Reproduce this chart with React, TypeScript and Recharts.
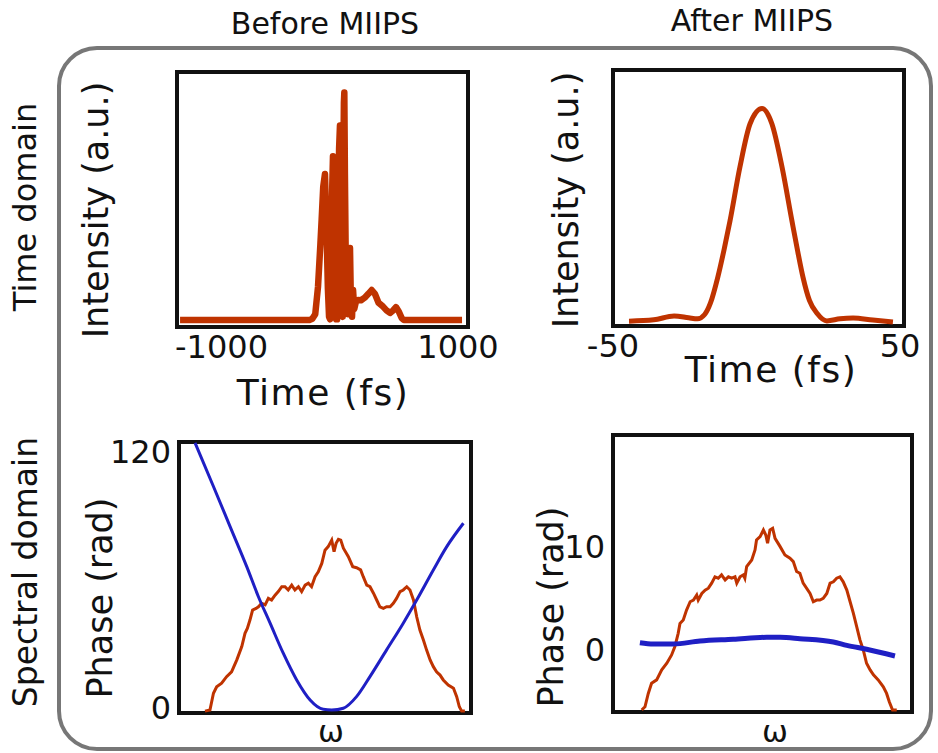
import React from 'react';
import { LineChart, Line, XAxis, YAxis, ReferenceArea } from 'recharts';

const W = 938;
const H = 753;
const FONT = '"DejaVu Sans", Verdana, sans-serif';
const RED = '#bf3300';
const BLUE = '#1f1fc4';
const INK = '#111';

// before MIIPS, time domain (fs / a.u.)
const beforeTime = [-979, -90, -70, -50, -31, -15, -6, 5, 17, 27, 37, 45, 52, 60, 67, 72, 78, 86, 94, 100, 107, 114, 120, 126, 133, 139, 143, 147, 150, 154, 160, 168, 177, 183, 189, 195, 203, 210, 218, 230, 244, 265, 290, 315, 338, 360, 385, 416, 440, 464, 485, 505, 525, 544, 560, 959];
const beforeIntensity = [2.7, 2.7, 3.2, 5, 15.7, 32, 42, 55, 60, 40, 15, 4, 3, 25, 55, 67, 45, 15, 3, 3, 35, 70, 79, 45, 5, 4, 60, 88, 92, 60, 25, 7, 5, 20, 31, 10, 4, 14.5, 7, 10, 10.6, 10.5, 11.5, 13, 14.5, 13, 9.5, 8, 6.5, 5.5, 6.5, 7.8, 6, 3.5, 2.7, 2.7];

// after MIIPS, time domain
const afterTime = [-44.5, -36, -29, -24, -21, -18.5, -16.5, -14, -11.8, -9.8, -6.4, -2.9, 1.2, 4.6, 8.1, 11.5, 13.5, 15.3, 17.5, 20.1, 23.5, 28, 32.5, 39.3, 46.2];
const afterIntensity = [1.9, 2.4, 3.9, 3.2, 2.8, 4.5, 9, 19, 30, 41, 62, 79, 85, 79, 62, 41, 29, 19, 10, 5, 2, 2.8, 3.1, 2.3, 1.6];

// before MIIPS, spectral domain (normalised ω)
const beforeOmega = [0.089, 0.106, 0.118, 0.129, 0.146, 0.163, 0.18, 0.198, 0.215, 0.226, 0.234, 0.243, 0.252, 0.264, 0.272, 0.283, 0.295, 0.306, 0.317, 0.329, 0.34, 0.352, 0.363, 0.374, 0.386, 0.397, 0.409, 0.42, 0.432, 0.443, 0.454, 0.466, 0.477, 0.489, 0.5, 0.511, 0.523, 0.531, 0.538, 0.546, 0.554, 0.563, 0.58, 0.595, 0.608, 0.622, 0.631, 0.643, 0.654, 0.666, 0.677, 0.688, 0.7, 0.711, 0.723, 0.734, 0.745, 0.757, 0.768, 0.78, 0.791, 0.803, 0.814, 0.825, 0.837, 0.848, 0.86, 0.871, 0.882, 0.894, 0.905, 0.922, 0.94, 0.951, 0.96, 0.968, 0.979];
const beforeSpectrum = [0.7, 1.1, 7.3, 9.7, 11, 13.4, 15.2, 19.6, 24.5, 29.4, 31.2, 34.3, 38, 38.6, 39.2, 40.5, 39.9, 42.3, 41.7, 43.5, 44.8, 46.6, 46.6, 45.4, 47.2, 45.4, 46.6, 44.8, 47.2, 47.9, 46.6, 50.3, 52.1, 55.2, 60.1, 61.4, 63.8, 59.5, 62.6, 64.1, 63.8, 60.8, 57.7, 54, 53.6, 52.8, 50.3, 47.2, 46.6, 44.2, 41.7, 39.2, 38.6, 39.2, 39.2, 40.5, 42.3, 44.8, 45.4, 46.6, 45.4, 41.7, 35.5, 30.6, 26.9, 23.2, 19.6, 17.1, 15.2, 14, 12.2, 10.3, 9.1, 6, 2.3, 0.7, 0.7];
const beforePhaseOmega = [0.055, 0.118, 0.175, 0.232, 0.272, 0.312, 0.357, 0.403, 0.449, 0.494, 0.523, 0.563, 0.608, 0.654, 0.711, 0.768, 0.814, 0.871, 0.917, 0.974];
const beforePhase = [120, 100.4, 82.4, 64.4, 50.9, 39, 25.5, 13.5, 4.5, 0.3, 0, 0.8, 6, 15, 27, 39, 49.4, 62.9, 73.4, 83.9];

// after MIIPS, spectral domain
const afterOmega = [0.096, 0.107, 0.118, 0.129, 0.146, 0.163, 0.18, 0.196, 0.207, 0.218, 0.224, 0.235, 0.246, 0.258, 0.269, 0.28, 0.285, 0.297, 0.308, 0.319, 0.33, 0.341, 0.352, 0.363, 0.375, 0.386, 0.397, 0.408, 0.414, 0.425, 0.436, 0.441, 0.447, 0.464, 0.475, 0.48, 0.492, 0.503, 0.511, 0.517, 0.525, 0.534, 0.542, 0.559, 0.575, 0.592, 0.603, 0.614, 0.625, 0.636, 0.659, 0.67, 0.681, 0.692, 0.703, 0.715, 0.726, 0.737, 0.748, 0.759, 0.77, 0.782, 0.793, 0.804, 0.815, 0.826, 0.837, 0.848, 0.86, 0.871, 0.887, 0.904, 0.915, 0.924, 0.935, 0.949];
const afterSpectrum = [0.7, 1.9, 6.7, 10.4, 11.6, 15.2, 17.6, 20.6, 23.6, 28.4, 32, 33.2, 36.8, 39.8, 40.4, 42.2, 40.4, 42.8, 44, 44.7, 46.5, 48.8, 48.3, 49.5, 47.7, 48.8, 48.3, 48.8, 46.5, 48.8, 49.5, 48.3, 52.5, 54.9, 58.5, 62.1, 63.3, 65.7, 63.9, 60.9, 65.7, 66.3, 62.7, 59.7, 56.7, 55.5, 54.3, 50.7, 50.1, 46.5, 42.8, 39.8, 40.4, 40.4, 41, 42.8, 46.5, 47, 48.3, 48.8, 47, 44, 39.8, 35.6, 30.8, 26, 22.4, 17.6, 15.2, 13.4, 11.6, 9.1, 6.7, 3.7, 0.7, 0.7];
const afterPhaseOmega = [0.09, 0.135, 0.202, 0.291, 0.402, 0.514, 0.559, 0.625, 0.737, 0.782, 0.848, 0.943];
const afterPhase = [0.71, 0.58, 0.58, 0.87, 1.04, 1.23, 1.23, 1.1, 0.78, 0.45, 0.07, -0.58];

const zip = (xs: number[], ys: number[]) => xs.map((x, i) => ({ x, y: ys[i] }));

type Box = { l: number; t: number; r: number; b: number };
const box1: Box = { l: 177, t: 72, r: 468, b: 327 };
const box2: Box = { l: 613, t: 70, r: 904, b: 326 };
const box3: Box = { l: 179, t: 442, r: 471, b: 713 };
const box4: Box = { l: 613, t: 435, r: 912, b: 712 };

const YW = 40;
const XH = 30;
const marginOf = (b: Box) => ({ top: b.t, left: b.l - YW, right: W - b.r, bottom: H - b.b - XH });

const layer: React.CSSProperties = { position: 'absolute', left: 0, top: 0 };

// plot-area border drawn as a reference area spanning both domains
const frame = (yAxisId: string, xd: number[], yd: number[]) => (
  <ReferenceArea
    yAxisId={yAxisId}
    x1={xd[0]}
    x2={xd[1]}
    y1={yd[0]}
    y2={yd[1]}
    fill="none"
    fillOpacity={0}
    stroke={INK}
    strokeWidth={4}
    strokeOpacity={1}
    ifOverflow="visible"
  />
);

const timeTick = (shift: Record<string, [number, string]>) => (p: any) => {
  const [dx, anchor] = shift[String(p.payload.value)] || [0, 'middle'];
  return (
    <text x={p.x + dx} y={p.y + 31} textAnchor={anchor} fontSize={32} fontFamily={FONT} fill={INK}>
      {p.payload.value}
    </text>
  );
};

const phaseTick = (gap: number, shift: Record<string, number>) => (p: any) => (
  <text x={p.x - gap} y={p.y + (shift[String(p.payload.value)] || 0)} textAnchor="end" dominantBaseline="central" fontSize={32} fontFamily={FONT} fill={INK}>
    {p.payload.value}
  </text>
);

const Txt = (p: { x: number; y: number; size: number; rot?: boolean; ls?: number; children: React.ReactNode }) => (
  <text
    x={p.x}
    y={p.y}
    textAnchor="middle"
    dominantBaseline={p.rot ? 'central' : 'auto'}
    transform={p.rot ? `rotate(-90 ${p.x} ${p.y})` : undefined}
    fontSize={p.size}
    letterSpacing={p.ls}
    fontFamily={FONT}
    fill={INK}
  >
    {p.children}
  </text>
);

const d1x = [-1000, 1000];
const d1y = [0, 100];
const d2x = [-50, 50];
const d3x = [0, 1];
const d3p = [-1.35, 120.4];
const d4p = [-6.02, 20.87];

export default function App() {
  return (
    <div style={{ position: 'absolute', left: 0, top: 0, width: W, height: H, background: '#fff' }}>
      <svg width={W} height={H} style={layer}>
        <rect x={59} y={48} width={872} height={701} rx={38} fill="none" stroke="#777" strokeWidth={4} />
        <Txt x={325} y={34} size={30}>Before MIIPS</Txt>
        <Txt x={752} y={31} size={30}>After MIIPS</Txt>
        <Txt x={25} y={207} size={32} rot>Time domain</Txt>
        <Txt x={25} y={572} size={33} rot>Spectral domain</Txt>
        <Txt x={96} y={210} size={35} rot>Intensity (a.u.)</Txt>
        <Txt x={566} y={200} size={35} rot>Intensity (a.u.)</Txt>
        <Txt x={100} y={598} size={35} rot>Phase (rad)</Txt>
        <Txt x={551} y={607} size={35} rot>Phase (rad)</Txt>
        <Txt x={323} y={405} size={36} ls={1.5}>Time (fs)</Txt>
        <Txt x={771} y={382} size={36} ls={1.5}>Time (fs)</Txt>
        <Txt x={331} y={742} size={31}>ω</Txt>
        <Txt x={775} y={742} size={31}>ω</Txt>
      </svg>

      <div style={layer}>
        <LineChart width={W} height={H} margin={marginOf(box1)}>
          <XAxis dataKey="x" type="number" domain={d1x} ticks={[-1000, 1000]} interval={0} height={XH} axisLine={false} tickLine={false} tickSize={0} tickMargin={0} tick={timeTick({ '-1000': [-2, 'start'], '1000': [-10, 'middle'] })} />
          <YAxis yAxisId="i" type="number" domain={d1y} width={YW} axisLine={false} tickLine={false} tick={false} />
          <Line yAxisId="i" data={zip(beforeTime, beforeIntensity)} dataKey="y" type="linear" stroke={RED} strokeWidth={6.5} strokeLinejoin="round" dot={false} isAnimationActive={false} />
          {frame('i', d1x, d1y)}
        </LineChart>
      </div>

      <div style={layer}>
        <LineChart width={W} height={H} margin={marginOf(box2)}>
          <XAxis dataKey="x" type="number" domain={d2x} ticks={[-50, 50]} interval={0} height={XH} axisLine={false} tickLine={false} tickSize={0} tickMargin={0} tick={timeTick({ '-50': [0, 'middle'], '50': [-4, 'middle'] })} />
          <YAxis yAxisId="i" type="number" domain={d1y} width={YW} axisLine={false} tickLine={false} tick={false} />
          <Line yAxisId="i" data={zip(afterTime, afterIntensity)} dataKey="y" type="monotone" stroke={RED} strokeWidth={5} dot={false} isAnimationActive={false} />
          {frame('i', d2x, d1y)}
        </LineChart>
      </div>

      <div style={layer}>
        <LineChart width={W} height={H} margin={marginOf(box3)}>
          <XAxis dataKey="x" type="number" domain={d3x} height={XH} axisLine={false} tickLine={false} tick={false} />
          <YAxis yAxisId="p" type="number" domain={d3p} ticks={[0, 120]} interval={0} width={YW} axisLine={false} tickLine={false} tickSize={0} tickMargin={0} tick={phaseTick(8, { '120': 9, '0': -2 })} />
          <YAxis yAxisId="s" type="number" domain={d1y} hide />
          <Line yAxisId="s" data={zip(beforeOmega, beforeSpectrum)} dataKey="y" type="linear" stroke={RED} strokeWidth={3} dot={false} isAnimationActive={false} />
          <Line yAxisId="p" data={zip(beforePhaseOmega, beforePhase)} dataKey="y" type="monotone" stroke={BLUE} strokeWidth={3} dot={false} isAnimationActive={false} />
          {frame('p', d3x, d3p)}
        </LineChart>
      </div>

      <div style={layer}>
        <LineChart width={W} height={H} margin={marginOf(box4)}>
          <XAxis dataKey="x" type="number" domain={d3x} height={XH} axisLine={false} tickLine={false} tick={false} />
          <YAxis yAxisId="p" type="number" domain={d4p} ticks={[0, 10]} interval={0} width={YW} axisLine={false} tickLine={false} tickSize={0} tickMargin={0} tick={phaseTick(8, {})} />
          <YAxis yAxisId="s" type="number" domain={d1y} hide />
          <Line yAxisId="s" data={zip(afterOmega, afterSpectrum)} dataKey="y" type="linear" stroke={RED} strokeWidth={3} dot={false} isAnimationActive={false} />
          <Line yAxisId="p" data={zip(afterPhaseOmega, afterPhase)} dataKey="y" type="monotone" stroke={BLUE} strokeWidth={5} dot={false} isAnimationActive={false} />
          {frame('p', d3x, d4p)}
        </LineChart>
      </div>
    </div>
  );
}
